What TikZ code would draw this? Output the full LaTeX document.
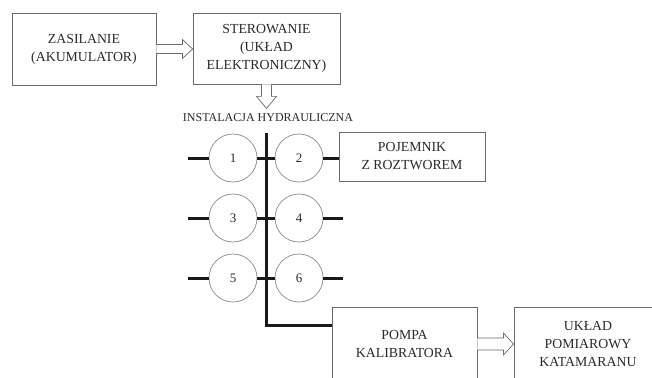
\documentclass[tikz,border=0pt]{standalone}
\usepackage{fontspec}
\setmainfont{Liberation Serif}
\usetikzlibrary{calc}
\definecolor{boxline}{HTML}{6A6A6A}
\definecolor{circline}{HTML}{8A8A8A}
\definecolor{txt}{HTML}{2A2A2A}
\definecolor{bus}{HTML}{1A1A1A}
\tikzset{
  blockbox/.style={draw=boxline, line width=0.8pt, fill=white, inner sep=0pt, align=center,
    font=\fontsize{13.8}{18}\selectfont, text=txt},
  valve/.style={circle, draw=circline, line width=0.7pt, minimum size=48pt, inner sep=0pt,
    font=\fontsize{13}{15}\selectfont, text=txt},
  pipe/.style={draw=bus, line width=3pt},
  openarrow/.style={draw=boxline, line width=0.7pt, fill=white, line join=miter}
}
\begin{document}
\begin{tikzpicture}[x=1pt,y=-1pt]
\useasboundingbox (0,0) rectangle (652,377);
\clip (0,0) rectangle (652,377);
% boxes
\node[blockbox, minimum width=144pt, minimum height=72pt] (zas) at (84,49) {ZASILANIE\\(AKUMULATOR)};
\node[blockbox, minimum width=147pt, minimum height=71pt] (ster) at (266.5,48.5) {STEROWANIE\\(UKŁAD\\ELEKTRONICZNY)};
\node[blockbox, minimum width=146pt, minimum height=49pt] (poj) at (412,156.5) {POJEMNIK\\Z ROZTWOREM};
\node[blockbox, minimum width=145pt, minimum height=74pt] (pompa) at (404.5,344) {POMPA\\KALIBRATORA};
\node[blockbox, minimum width=148pt, minimum height=74pt] (uklad) at (588,344) {UKŁAD\\POMIAROWY\\KATAMARANU};
\node[font=\fontsize{12}{14}\selectfont, text=txt, inner sep=0pt] (inst) at (268,118) {INSTALACJA HYDRAULICZNA};
% valves
\node[valve] (v1) at (233,158) {1};
\node[valve] (v2) at (299,158) {2};
\node[valve] (v3) at (233,218) {3};
\node[valve] (v4) at (299,218) {4};
\node[valve] (v5) at (233,278) {5};
\node[valve] (v6) at (299,278) {6};
\coordinate (bustop) at (266,133);
\coordinate (buscorner) at (266,325);
\coordinate (l1) at (188,158);
\coordinate (l3) at (188,218);
\coordinate (l5) at (188,278);
\coordinate (r4) at (343,218);
\coordinate (r6) at (343,278);
% pipes
\draw[pipe] (bustop) -- (buscorner) -- (buscorner -| pompa.west);
\draw[pipe] (l1) -- (v1.west);
\draw[pipe] (l3) -- (v3.west);
\draw[pipe] (l5) -- (v5.west);
\draw[pipe] (v1.east) -- (v2.west);
\draw[pipe] (v3.east) -- (v4.west);
\draw[pipe] (v5.east) -- (v6.west);
\draw[pipe] (v2.east) -- (poj.west |- v2.east);
\draw[pipe] (v4.east) -- (r4);
\draw[pipe] (v6.east) -- (r6);
% open arrows
\draw[openarrow] ($(zas.east)+(0,-4.5)$) -- ++(26,0) -- ++(0,-5) -- (ster.west |- zas.east)
  -- ($(zas.east)+(26,9.5)$) -- ++(0,-5) -- ($(zas.east)+(0,4.5)$);
\draw[openarrow] ($(ster.south)+(-5,0)$) -- ++(0,12) -- ++(-5,0) -- ($(ster.south)+(0,24)$) -- ($(ster.south)+(10,12)$) -- ++(-5,0) -- ($(ster.south)+(5,0)$);
\draw[openarrow] ($(pompa.east)+(0,-6)$) -- ++(26,0) -- ++(0,-5) -- (uklad.west |- pompa.east) -- ($(pompa.east)+(26,11)$) -- ++(0,-5) -- ($(pompa.east)+(0,6)$);
\end{tikzpicture}
\end{document}
